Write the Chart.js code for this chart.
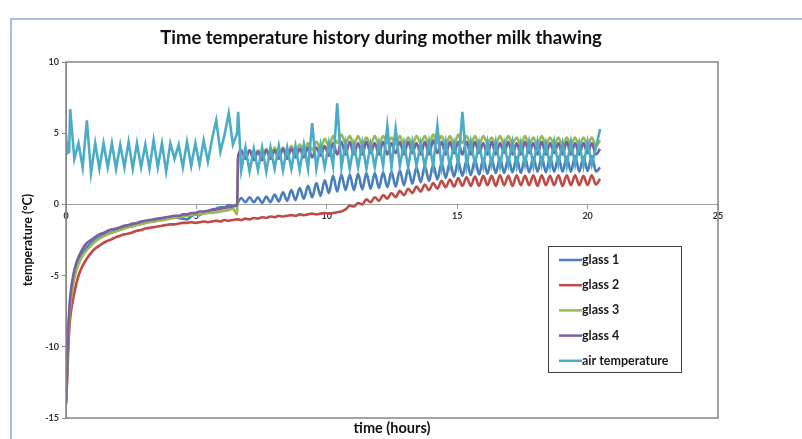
<!DOCTYPE html>
<html>
<head>
<meta charset="utf-8">
<script src="https://cdn.jsdelivr.net/npm/chart.js@4.4.1/dist/chart.umd.min.js"></script>
<style>
  html, body { margin: 0; padding: 0; background: #fff; }
  #wrap { position: relative; width: 802px; height: 439px; overflow: hidden; }
  #frame { position: absolute; left: 10px; top: 18px; width: 800px; height: 430px;
           border-left: 2px solid #a9bde6; border-top: 2px solid #a9bde6; }
  #chart { position: absolute; left: 0; top: 0; }
</style>
</head>
<body>
<div id="wrap"><div id="frame"></div><canvas id="chart" width="802" height="439"></canvas></div>
<script>
// time in hours (shared by all series)
const time = [
  0, 0.04, 0.08, 0.12,
  0.16, 0.32, 0.48, 0.64, 0.8, 0.96, 1.12, 1.28,
  1.44, 1.6, 1.76, 1.92, 2.08, 2.24, 2.4, 2.56,
  2.72, 2.88, 3.04, 3.2, 3.36, 3.52, 3.68, 3.84,
  4, 4.16, 4.32, 4.48, 4.64, 4.8, 4.96, 5.12,
  5.28, 5.44, 5.6, 5.76, 5.92, 6.08, 6.24, 6.4,
  6.56, 6.6,
  6.72, 6.88, 7.04, 7.2, 7.36, 7.52, 7.68, 7.84,
  8, 8.16, 8.32, 8.48, 8.64, 8.8, 8.96, 9.12,
  9.28, 9.44, 9.6, 9.76, 9.92, 10.08, 10.24, 10.4,
  10.56, 10.72, 10.88, 11.04, 11.2, 11.36, 11.52, 11.68,
  11.84, 12, 12.16, 12.32, 12.48, 12.64, 12.8, 12.96,
  13.12, 13.28, 13.44, 13.6, 13.76, 13.92, 14.08, 14.24,
  14.4, 14.56, 14.72, 14.88, 15.04, 15.2, 15.36, 15.52,
  15.68, 15.84, 16, 16.16, 16.32, 16.48, 16.64, 16.8,
  16.96, 17.12, 17.28, 17.44, 17.6, 17.76, 17.92, 18.08,
  18.24, 18.4, 18.56, 18.72, 18.88, 19.04, 19.2, 19.36,
  19.52, 19.68, 19.84, 20, 20.16, 20.32, 20.48
];

const glass1 = [
  -14, -11.8, -9.5, -8.0,
  -6.9, -5.0, -4.0, -3.4, -3.0, -2.7, -2.5, -2.3,
  -2.15, -2.0, -1.95, -1.8, -1.75, -1.6, -1.55, -1.45,
  -1.4, -1.3, -1.3, -1.2, -1.2, -1.1, -1.1, -1.0,
  -0.95, -0.9, -0.95, -1.0, -1.05, -0.85, -0.7, -0.75,
  -0.55, -0.5, -0.35, -0.3, -0.2, -0.2, -0.05, -0.1,
  0.0, 0.15,
  0.45, 0.15, 0.5, 0.15, 0.5, 0.1, 0.55, 0.15,
  0.7, 0.2, 0.85, 0.25, 1.0, 0.3, 1.15, 0.4,
  1.3, 0.5, 1.5, 0.6, 1.7, 0.8, 2.0, 0.9,
  2.1, 1.0, 2.1, 1.0, 2.15, 1.05, 2.2, 1.1,
  2.2, 1.15, 2.25, 1.2, 2.3, 1.25, 2.4, 1.35,
  2.5, 1.45, 2.6, 1.55, 2.7, 1.65, 2.8, 1.75,
  2.9, 1.85, 3.0, 1.95, 3.05, 2.0, 3.1, 2.05,
  3.15, 2.1, 3.2, 2.15, 3.2, 2.2, 3.25, 2.2,
  3.25, 2.25, 3.3, 2.2, 3.3, 2.25, 3.3, 2.3,
  3.35, 2.25, 3.3, 2.3, 3.35, 2.3, 3.35, 2.3,
  3.4, 2.3, 3.35, 2.35, 3.4, 2.3, 2.6
];

const glass2 = [
  -13.8, -12.5, -10.5, -9.0,
  -8.0, -6.2, -5.0, -4.3, -3.8, -3.4, -3.1, -2.9,
  -2.7, -2.55, -2.45, -2.3, -2.2, -2.1, -2.05, -1.95,
  -1.85, -1.8, -1.7, -1.65, -1.6, -1.55, -1.5, -1.45,
  -1.4, -1.4, -1.35, -1.3, -1.3, -1.25, -1.3, -1.25,
  -1.2, -1.25, -1.2, -1.15, -1.2, -1.1, -1.15, -1.1,
  -1.05, -1.05,
  -1.1, -1.0, -1.05, -0.95, -1.0, -0.9, -0.95, -0.85,
  -0.9, -0.8, -0.85, -0.8, -0.75, -0.8, -0.7, -0.75,
  -0.7, -0.65, -0.7, -0.65, -0.6, -0.65, -0.6, -0.55,
  -0.5, -0.35, -0.1, -0.15, 0.1, 0.0, 0.35, 0.15,
  0.5, 0.25, 0.65, 0.4, 0.8, 0.5, 0.95, 0.65,
  1.1, 0.8, 1.25, 0.9, 1.4, 1.0, 1.5, 1.1,
  1.65, 1.2, 1.75, 1.25, 1.85, 1.3, 1.9, 1.3,
  1.95, 1.3, 2.0, 1.35, 2.0, 1.3, 2.05, 1.35,
  2.0, 1.3, 2.05, 1.35, 2.0, 1.35, 2.05, 1.3,
  2.05, 1.35, 2.0, 1.35, 2.05, 1.3, 2.05, 1.35,
  2.05, 1.35, 2.0, 1.35, 2.05, 1.4, 1.8
];

const glass3 = [
  -14, -12.0, -9.8, -8.3,
  -7.2, -5.2, -4.2, -3.6, -3.2, -2.9, -2.6, -2.4,
  -2.25, -2.1, -2.0, -1.9, -1.8, -1.7, -1.6, -1.55,
  -1.45, -1.4, -1.3, -1.25, -1.2, -1.15, -1.1, -1.05,
  -1.0, -0.95, -0.9, -0.85, -0.8, -0.75, -0.7, -0.7,
  -0.65, -0.6, -0.6, -0.55, -0.5, -0.45, -0.4, -0.3,
  -0.7, 3.3,
  3.6, 3.3, 3.8, 3.2, 3.8, 3.3, 3.9, 3.3,
  4.0, 3.4, 4.0, 3.5, 4.1, 3.6, 4.2, 3.7,
  4.3, 3.8, 4.4, 3.9, 4.6, 4.1, 4.8, 4.3,
  4.9, 4.3, 4.8, 4.2, 4.8, 4.2, 4.7, 4.2,
  4.8, 4.2, 4.8, 4.3, 4.7, 4.2, 4.8, 4.2,
  4.7, 4.2, 4.8, 4.3, 4.8, 4.2, 4.9, 4.3,
  4.8, 4.2, 4.8, 4.2, 4.9, 4.3, 4.8, 4.2,
  4.8, 4.2, 4.8, 4.3, 4.7, 4.2, 4.8, 4.2,
  4.8, 4.3, 4.7, 4.2, 4.8, 4.2, 4.7, 4.2,
  4.8, 4.2, 4.7, 4.2, 4.7, 4.1, 4.7, 4.2,
  4.7, 4.1, 4.7, 4.2, 4.7, 4.1, 4.5
];

const glass4 = [
  -14, -11.5, -9.0, -7.6,
  -6.5, -4.6, -3.7, -3.1, -2.7, -2.5, -2.3, -2.1,
  -2.0, -1.85, -1.75, -1.7, -1.6, -1.5, -1.45, -1.35,
  -1.3, -1.2, -1.15, -1.1, -1.05, -1.0, -0.95, -0.9,
  -0.85, -0.8, -0.8, -0.7, -0.7, -0.6, -0.6, -0.5,
  -0.5, -0.45, -0.4, -0.35, -0.3, -0.25, -0.2, -0.15,
  -0.05, 3.4,
  3.8, 3.2, 3.8, 3.1, 3.7, 3.1, 3.8, 3.2,
  3.8, 3.2, 3.9, 3.2, 3.9, 3.3, 3.9, 3.3,
  4.0, 3.3, 4.0, 3.4, 4.1, 3.4, 4.3, 3.5,
  4.4, 3.5, 4.4, 3.5, 4.3, 3.5, 4.4, 3.6,
  4.3, 3.5, 4.4, 3.5, 4.3, 3.6, 4.4, 3.5,
  4.4, 3.6, 4.3, 3.5, 4.4, 3.5, 4.5, 3.6,
  4.4, 3.5, 4.4, 3.6, 4.4, 3.5, 4.4, 3.5,
  4.4, 3.6, 4.3, 3.5, 4.4, 3.5, 4.3, 3.6,
  4.4, 3.5, 4.3, 3.5, 4.4, 3.6, 4.3, 3.5,
  4.4, 3.5, 4.3, 3.6, 4.3, 3.5, 4.4, 3.5,
  4.3, 3.5, 4.3, 3.6, 4.3, 3.5, 3.9
];

const airTemp = [
  5.0, 3.5, 4.4, 3.6,
  6.7, 3.2, 4.3, 2.6, 5.9, 2.2, 4.3, 2.5,
  4.3, 2.6, 4.3, 2.5, 4.2, 2.6, 4.4, 2.5,
  4.3, 2.6, 4.2, 2.5, 4.5, 2.6, 4.3, 2.3,
  4.3, 3.2, 4.2, 2.6, 4.4, 2.7, 4.3, 2.8,
  4.5, 3.0, 4.6, 5.9, 3.7, 4.9, 6.4, 4.2,
  5.0, 6.5,
  2.4, 4.0, 2.3, 3.9, 2.4, 4.0, 2.3, 4.0,
  2.5, 4.1, 2.4, 4.0, 2.5, 4.1, 2.4, 4.2,
  2.5, 5.7, 2.5, 4.2, 2.6, 4.3, 2.7, 7.1,
  2.6, 4.3, 2.5, 4.2, 2.6, 4.3, 2.5, 4.2,
  2.6, 4.3, 2.7, 5.5, 2.6, 5.3, 2.7, 4.3,
  2.6, 4.4, 2.7, 4.3, 2.6, 4.4, 2.7, 5.5,
  2.6, 4.4, 2.7, 4.3, 2.8, 6.5, 2.7, 4.4,
  2.8, 4.3, 2.7, 4.4, 2.8, 4.4, 2.7, 4.3,
  2.8, 4.4, 2.7, 4.3, 2.8, 4.4, 2.7, 4.4,
  2.8, 4.3, 2.7, 4.4, 2.8, 4.3, 2.7, 4.4,
  2.8, 4.3, 2.7, 4.4, 2.8, 4.0, 5.3
];

const seriesNames = ["glass 1", "glass 2", "glass 3", "glass 4", "air temperature"];
const seriesValues = [glass1, glass2, glass3, glass4, airTemp];
const seriesColors = ["#4a7ebb", "#be4b48", "#98b954", "#7d5fa0", "#4bacc6"];

const xTicks = [0, 5, 10, 15, 20, 25];
const yTicks = [-15, -10, -5, 0, 5, 10];

const FONT = "Lato, 'Open Sans', sans-serif";

// frame, titles and the boxed legend
const decor = {
  id: "decor",
  afterDraw(chart) {
    const { ctx, chartArea: a } = chart;
    ctx.save();
    ctx.strokeStyle = "#858585";
    ctx.lineWidth = 1.5;
    ctx.strokeRect(a.left, a.top, a.right - a.left, a.bottom - a.top);

    ctx.fillStyle = "#111";
    ctx.textAlign = "center";
    ctx.textBaseline = "middle";
    ctx.font = "bold 18.5px " + FONT;
    ctx.fillText("Time temperature history during mother milk thawing", 381, 38);
    ctx.font = "bold 14.5px " + FONT;
    ctx.fillText("time (hours)", 392, 428);
    ctx.save();
    ctx.translate(28, 240);
    ctx.rotate(-Math.PI / 2);
    ctx.font = "bold 12.5px " + FONT;
    ctx.fillText("temperature (°C)", 0, 0);
    ctx.restore();

    // legend
    ctx.fillStyle = "#fff";
    ctx.fillRect(548.5, 246.5, 133, 126);
    ctx.strokeStyle = "#404040";
    ctx.lineWidth = 1;
    ctx.strokeRect(548.5, 246.5, 133, 126);
    ctx.textAlign = "left";
    ctx.font = "bold 12.5px " + FONT;
    chart.data.datasets.forEach((ds, i) => {
      const y = 260 + i * 25.2;
      ctx.strokeStyle = ds.borderColor;
      ctx.lineWidth = 2.5;
      ctx.beginPath();
      ctx.moveTo(559, y);
      ctx.lineTo(582, y);
      ctx.stroke();
      ctx.fillStyle = "#1a1a1a";
      ctx.fillText(ds.label, 582, y);
    });
    ctx.restore();
  }
};

const tickFont = { family: FONT, size: 9, weight: "bold" };

new Chart(document.getElementById("chart").getContext("2d"), {
  type: "line",
  data: {
    datasets: seriesNames.map((name, s) => ({
      label: name,
      data: time.map((t, i) => ({ x: t, y: seriesValues[s][i] })),
      borderColor: seriesColors[s],
      backgroundColor: seriesColors[s],
      borderWidth: 2.6,
      pointRadius: 0,
      // glass probes smooth, air temperature straight segments
      cubicInterpolationMode: s < 4 ? "monotone" : "default",
      tension: 0,
      order: 5 - s
    }))
  },
  options: {
    responsive: false,
    animation: false,
    devicePixelRatio: 1,
    layout: { padding: { top: 62, right: 84, bottom: 21, left: 0 } },
    plugins: { legend: { display: false }, tooltip: { enabled: false } },
    scales: {
      x: {
        type: "linear",
        min: 0,
        max: 25,
        position: { y: 0 },
        afterBuildTicks: (s) => { s.ticks = xTicks.map((v) => ({ value: v })); },
        ticks: { font: tickFont, color: "#333", padding: 2, maxRotation: 0 },
        grid: { drawOnChartArea: false, tickLength: 4, color: "#999" },
        border: { color: "#a0a0a0", width: 1 }
      },
      y: {
        min: -15,
        max: 10,
        afterBuildTicks: (s) => { s.ticks = yTicks.map((v) => ({ value: v })); },
        afterFit: (s) => { s.width = 66; },
        ticks: { font: tickFont, color: "#333", padding: 3 },
        grid: { drawOnChartArea: false, tickLength: 4, color: "#888" },
        border: { color: "#858585", width: 1 }
      }
    }
  },
  plugins: [decor]
});
</script>
</body>
</html>
